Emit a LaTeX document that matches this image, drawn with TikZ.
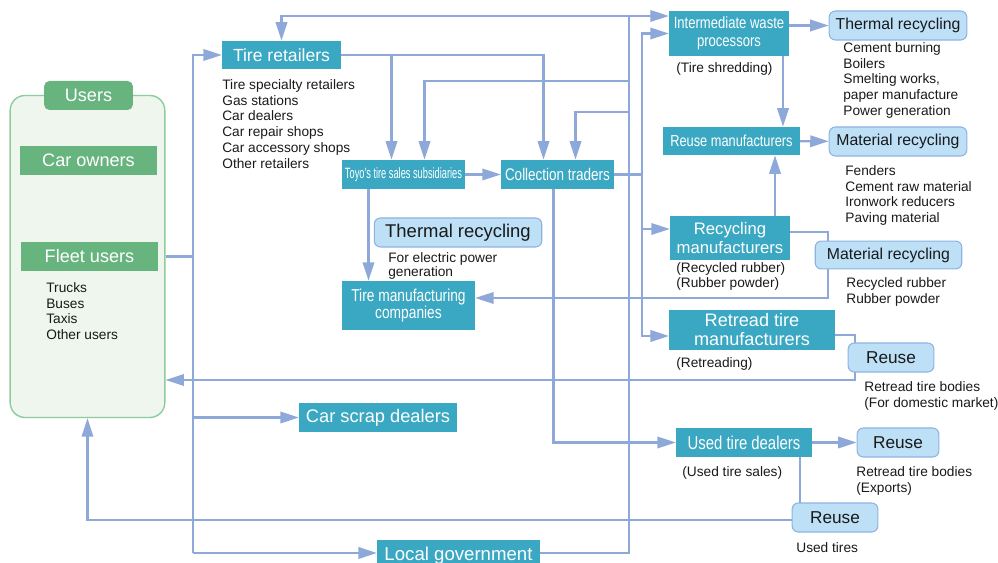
\documentclass[tikz,border=0pt]{standalone}
\usepackage{fontspec}
\setmainfont{Liberation Sans}
\newfontfamily\narrowfont[FakeStretch=0.8]{Liberation Sans}
\newfontfamily\narrowerfont[FakeStretch=0.62]{Liberation Sans}
\usetikzlibrary{calc,arrows.meta,backgrounds}

\definecolor{boxteal}{HTML}{3AA8C2}
\definecolor{flowblue}{HTML}{8EA8DA}
\definecolor{paleblue}{HTML}{BDE0F7}
\definecolor{paleedge}{HTML}{8EB2E0}
\definecolor{usergreen}{HTML}{68B47F}
\definecolor{userfill}{HTML}{EEF6EE}
\definecolor{useredge}{HTML}{8DCB9D}

\begin{document}
\begin{tikzpicture}[x=0.02cm,y=-0.02cm,
        tbox/.style={fill=boxteal, text=white, inner sep=0pt, minimum height=16.5pt, align=center},
        rbox/.style={fill=paleblue, draw=paleedge, line width=0.6pt, rounded corners=3.5pt,
            text=black!90, inner sep=0pt, minimum height=16.5pt, font=\fontsize{9}{11}\selectfont},
        gbox/.style={fill=usergreen, text=white, inner sep=0pt, minimum height=16.5pt,
            minimum width=77.7pt, font=\fontsize{10.3}{12}\selectfont},
        lst/.style={anchor=north west, inner sep=0pt, align=left, text=black!90,
            font=\fontsize{7.8}{9}\selectfont},
        flow/.style={draw=flowblue, line width=1.2pt, -{Triangle[length=10.5pt,width=6.5pt]}},
        link/.style={draw=flowblue, line width=1.2pt}]

            \useasboundingbox (0,0) rectangle (998,563);

            % users
            \node (users) at (87.5,256.5) [draw=useredge, fill=userfill, line width=0.8pt,
                rounded corners=8.5pt, minimum width=88pt, minimum height=183.3pt, inner sep=0pt] {};
            \node (usertab) at (88.5,95.5) [gbox, rounded corners=3pt, minimum width=50.5pt] {Users};
            \node (carown) at (88.5,160.5) [gbox] {Car owners};
            \node (fleet) at (89.5,256.5) [gbox] {Fleet users};
            \node (fleetlist) at (46,282) [lst] {Trucks\\Buses\\Taxis\\Other users};

            % retail side
            \node (retail) at (281.5,55) [tbox, minimum width=67.5pt, minimum height=15.9pt,
                font=\fontsize{10}{12}\selectfont] {Tire retailers};
            \node (retaillist) at (222,79) [lst] {Tire specialty retailers\\Gas stations\\Car dealers\\Car repair shops\\Car accessory shops\\Other retailers};
            \node (toyo) at (403.5,174.5) [tbox, minimum width=69.8pt,
                font=\narrowerfont\fontsize{8.5}{10}\selectfont] {Toyo's tire sales subsidiaries};
            \node (collect) at (557.5,174.5) [tbox, minimum width=64.1pt,
                font=\narrowfont\fontsize{9.6}{11}\selectfont] {Collection traders};
            \node (therm2) at (458,232.5) [rbox, minimum width=95.3pt,
                font=\fontsize{10.5}{12}\selectfont] {Thermal recycling};
            \node (therm2list) at (388,252) [lst, font=\fontsize{7.8}{7.2}\selectfont] {For electric power\\generation};
            \node (tiremfg) at (408.5,305.5) [tbox, minimum width=75.5pt, minimum height=27.8pt,
                font=\narrowfont\fontsize{9.8}{9.8}\selectfont] {Tire manufacturing\\companies};
            \node (scrap) at (378,417.5) [tbox, minimum width=89.7pt,
                font=\fontsize{10.4}{12}\selectfont] {Car scrap dealers};
            \node (localgov) at (458.5,556) [tbox, minimum width=92.5pt, minimum height=18.2pt,
                font=\fontsize{10.6}{12}\selectfont] {Local government};

            % processors
            \node (iwp) at (729,33.5) [tbox, minimum width=68.1pt, minimum height=25.5pt,
                font=\narrowfont\fontsize{9.3}{10.4}\selectfont] {Intermediate waste\\processors};
            \node (iwplist) at (676,62) [lst] {(Tire shredding)};
            \node (therm1) at (898,25.5) [rbox, minimum width=78.3pt] {Thermal recycling};
            \node (therm1list) at (843,42) [lst] {Cement burning\\Boilers\\Smelting works,\\paper manufacture\\Power generation};
            \node (reusemfr) at (731.5,141) [tbox, minimum width=77.7pt, minimum height=15.9pt,
                font=\narrowfont\fontsize{9.1}{11}\selectfont] {Reuse manufacturers};
            \node (mat1) at (898,141.5) [rbox, minimum width=78.3pt] {Material recycling};
            \node (mat1list) at (845,165) [lst] {Fenders\\Cement raw material\\Ironwork reducers\\Paving material};
            \node (recyc) at (730,238) [tbox, minimum width=68.1pt, minimum height=25pt,
                font=\fontsize{9.5}{10.4}\selectfont] {Recycling\\manufacturers};
            \node (recyclist) at (676,262) [lst, font=\fontsize{7.8}{8.6}\selectfont] {(Recycled rubber)\\(Rubber powder)};
            \node (mat2) at (888.5,255) [rbox, minimum width=83.4pt, minimum height=15.9pt] {Material recycling};
            \node (mat2list) at (846,277) [lst] {Recycled rubber\\Rubber powder};
            \node (retread) at (752,330) [tbox, minimum width=94.2pt, minimum height=22.7pt,
                font=\fontsize{10.3}{10.8}\selectfont] {Retread tire\\manufacturers};
            \node (retreadlist) at (676,357) [lst] {(Retreading)};
            \node (reuse1) at (891,357.5) [rbox, minimum width=48.8pt,
                font=\fontsize{9.8}{11}\selectfont] {Reuse};
            \node (reuse1list) at (864,381) [lst] {Retread tire bodies\\(For domestic market)};
            \node (used) at (744,442.5) [tbox, minimum width=77.2pt,
                font=\narrowfont\fontsize{10.6}{12}\selectfont] {Used tire dealers};
            \node (usedlist) at (682,466) [lst] {(Used tire sales)};
            \node (reuse2) at (898,442.5) [rbox, minimum width=46.5pt,
                font=\fontsize{9.8}{11}\selectfont] {Reuse};
            \node (reuse2list) at (856,466) [lst] {Retread tire bodies\\(Exports)};
            \node (reuse3) at (835,517.5) [rbox, minimum width=48.8pt,
                font=\fontsize{9.8}{11}\selectfont] {Reuse};
            \node (reuse3list) at (796,542) [lst] {Used tires};

            % bus lines and rows
            \coordinate (busL) at (193,0);
            \coordinate (busM) at (629,0);
            \coordinate (busR) at (642,0);
            \coordinate (topln) at (0,16);
            \coordinate (rowA) at (0,81);
            \coordinate (rowB) at (0,112);
            \coordinate (rowC) at (0,232);
            \coordinate (rowD) at (0,298);
            \coordinate (rowE) at (0,335);
            \coordinate (rowF) at (0,380);
            \coordinate (rowG) at (0,520);
            \coordinate (rowH) at (0,553);
            \coordinate (colD) at (783,0);
            \coordinate (colE) at (775,0);
            \coordinate (colF) at (828,0);
            \coordinate (colG) at (855,0);
            \coordinate (colH) at (800,0);
            \coordinate (toyoA) at ($(toyo.north)+(-12,0)$);
            \coordinate (toyoB) at ($(toyo.north)+(21,0)$);
            \coordinate (toyoC) at ($(toyo.south)+(-35,0)$);
            \coordinate (collA) at ($(collect.north)+(-14,0)$);
            \coordinate (collB) at ($(collect.north)+(18,0)$);
            \coordinate (collC) at ($(collect.south)+(-4,0)$);
            \coordinate (recIn) at ($(recyc.west)+(0,-9)$);
            \coordinate (retIn) at ($(retread.west)+(0,6)$);

            \begin{scope}[on background layer]
                \draw [link] (fleet.east -| users.east) -- (fleet.east -| busL);
                \draw [flow] (busL |- rowH) -- (busL |- retail.west) -- (retail.west);
                \draw [flow] (busL |- scrap.west) -- (scrap.west);
                \draw [flow] (busL |- rowH) -- (localgov.west |- rowH);

                \draw [flow] (localgov.east |- rowH) -| (busM |- topln) -- (iwp.west |- topln);
                \draw [flow] (busM |- topln) -| (retail.north);
                \draw [flow] (busM |- rowA) -| (toyoB);
                \draw [flow] (busM |- rowB) -| (collB);

                \draw [flow] (retail.east) -| (collA);
                \draw [flow] (toyoA |- retail.east) -- (toyoA);
                \draw [flow] (toyo) -- (collect);
                \draw [flow] (toyoC) -- (toyoC |- tiremfg.north);

                \draw [flow] (collect.east) -| (busR |- iwp.west) -- (iwp.west);
                \draw [flow] (busR |- collect.east) |- (recIn);
                \draw [flow] (busR |- collect.east) |- (retIn);
                \draw [flow] (collC) |- (used.west);

                \draw [flow] (iwp.east |- therm1) -- (therm1.west);
                \draw [flow] (iwp.south -| colD) -- (reusemfr.north -| colD);
                \draw [flow] (reusemfr) -- (mat1);
                \draw [flow] (recyc.north -| colE) -- (reusemfr.south -| colE);
                \draw [flow] (recyc.east |- rowC) -| (colF |- rowD) -- (tiremfg.east |- rowD);
                \draw [flow] (retread.east |- rowE) -| (colG |- rowF) -- (users.east |- rowF);
                \draw [flow] (used) -- (reuse2);
                \draw [flow] (used.south -| colH) |- (users.south |- rowG) -- (users.south);
            \end{scope}

        \end{tikzpicture}
\end{document}
